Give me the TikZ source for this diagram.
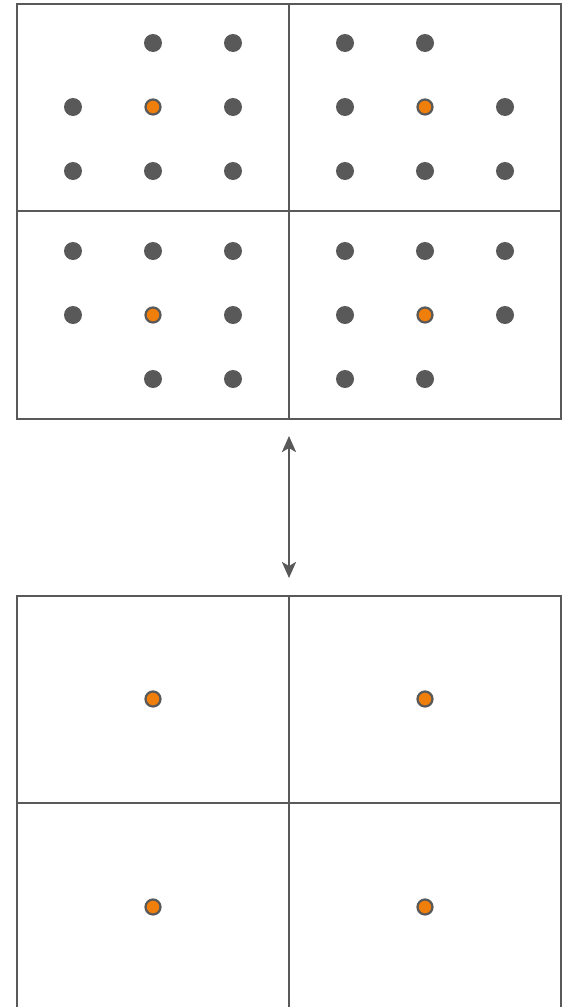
\documentclass[tikz,border=0pt]{standalone}
\usetikzlibrary{arrows.meta}
\definecolor{linegray}{HTML}{595959}
\definecolor{dotorange}{HTML}{F07E0A}
\tikzset{
  gridline/.style={draw=linegray, line width=2.6pt},
  graydot/.style={circle, fill=linegray, inner sep=0pt, minimum size=18pt},
  centerdot/.style={circle, fill=dotorange, draw=linegray, line width=2.2pt, inner sep=0pt, minimum size=15pt},
  link/.style={draw=linegray, line width=2.6pt, {Stealth[length=16pt,width=14pt,inset=4pt]}-{Stealth[length=16pt,width=14pt,inset=4pt]}}
}
\begin{document}
\begin{tikzpicture}[x=1pt,y=-1pt]
\useasboundingbox (0,0) rectangle (568,1007);
\clip (0,0) rectangle (568,1007);
% upper grid: 2x2 cells
\draw[gridline] (17,4) rectangle (561,419);
\draw[gridline] (289,4) -- (289,419);
\draw[gridline] (17,211) -- (561,211);
% lower grid, running past the bottom edge
\draw[gridline] (17,1020) -- (17,596) -- (561,596) -- (561,1020);
\draw[gridline] (289,596) -- (289,1020);
\draw[gridline] (17,803) -- (561,803);
% gray neighbour points of the upper grid
\foreach \px/\py [count=\i] in {
  153/43, 233/43, 73/107, 233/107, 73/171, 153/171, 233/171,
  345/43, 425/43, 345/107, 505/107, 345/171, 425/171, 505/171,
  73/251, 153/251, 233/251, 73/315, 233/315, 153/379, 233/379,
  345/251, 425/251, 505/251, 345/315, 505/315, 345/379, 425/379}
  \node[graydot] (g\i) at (\px,\py) {};
% centre points of the upper grid
\node[centerdot] (c1) at (153,107) {};
\node[centerdot] (c2) at (425,107) {};
\node[centerdot] (c3) at (153,315) {};
\node[centerdot] (c4) at (425,315) {};
% centre points of the lower grid
\node[centerdot] (d1) at (153,699) {};
\node[centerdot] (d2) at (425,699) {};
\node[centerdot] (d3) at (153,907) {};
\node[centerdot] (d4) at (425,907) {};
% two-way arrow between the grids
\coordinate (atop) at (289,436);
\coordinate (abot) at (289,578);
\draw[link] (atop) -- (abot);
\end{tikzpicture}
\end{document}
